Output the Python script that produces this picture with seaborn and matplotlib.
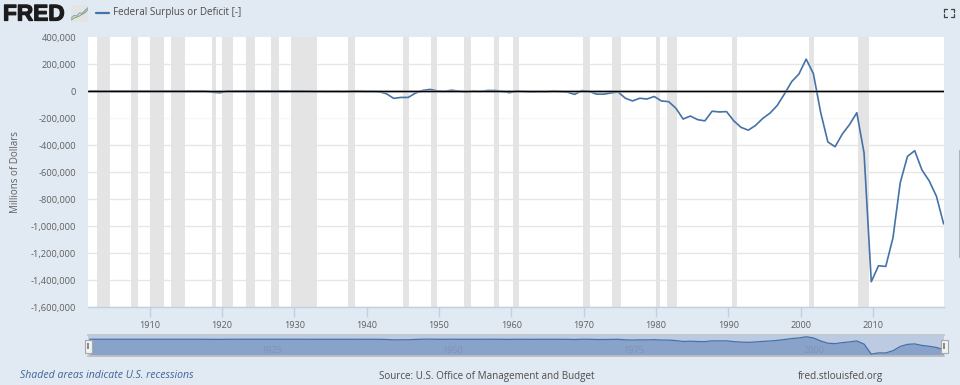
import matplotlib
matplotlib.use("Agg")
import matplotlib.pyplot as plt
import matplotlib.patheffects as pe
from matplotlib.patches import Rectangle
import numpy as np
import pandas as pd
import seaborn as sns

W, H = 960, 385
BG = "#e1e9f2"
BLUE = "#4572a7"
GREY_TXT = "#606060"

years = list(range(1901, 2020))
deficit = [
    63, 77, 43, -43, -23, 25, 87, -57, -89, -18,
    11, 3, 0, 0, -63, 48, -853, -9032, -13363, 291,
    509, 736, 713, 963, 717, 865, 1155, 939, 734, 738,
    -462, -2735, -2602, -3586, -2803, -4304, -2193, -89, -2846, -2920,
    -4941, -20503, -54554, -47557, -47553, -15936, 4018, 11796, 580, -3119,
    6102, -1519, -6493, -1154, -2993, 3947, 3412, -2769, -12849, 301,
    -3335, -7146, -4756, -5915, -1411, -3698, -8643, -25161, 3242, -2842,
    -23033, -23373, -14908, -6135, -53242, -73732, -53659, -59185, -40726, -73830,
    -78968, -127977, -207802, -185367, -212308, -221227, -149730, -155178, -152639, -221036,
    -269238, -290321, -255051, -203186, -163952, -107431, -21884, 69270, 125610, 236241,
    128236, -157758, -377585, -412727, -318346, -248181, -160701, -458553, -1412688, -1294373,
    -1299593, -1086963, -679544, -484602, -441960, -584651, -665446, -779137, -984155,
]
# fiscal year ends around october, FRED puts the point there
dates = [y + 0.75 for y in years]

recession_start = [1902.75, 1907.4, 1910.0, 1913.0, 1918.6, 1920.0, 1923.4, 1926.8, 1929.6, 1937.4,
                   1945.1, 1948.9, 1953.5, 1957.6, 1960.3, 1969.9, 1973.9, 1980.0, 1981.5, 1990.5,
                   2001.2, 2007.9]
recession_end = [1904.6, 1908.45, 1912.0, 1914.95, 1919.2, 1921.5, 1924.55, 1927.9, 1933.2, 1938.45,
                 1945.8, 1949.8, 1954.4, 1958.3, 1961.1, 1970.85, 1975.2, 1980.55, 1982.85, 1991.2,
                 2001.85, 2009.5]

y_ticks = [400000, 200000, 0, -200000, -400000, -600000, -800000, -1000000, -1200000, -1400000, -1600000]
x_ticks = [1910, 1920, 1930, 1940, 1950, 1960, 1970, 1980, 1990, 2000, 2010]
nav_labels = [1925, 1950, 1975, 2000]

icon_x = [0, 1, 2, 3, 4, 5, 6]
icon_green = [1, 2, 2.6, 3.2, 4.2, 5, 6.6]
icon_blue = [2, 3.4, 3.2, 4.8, 4.6, 6.2, 7.6]

df = pd.DataFrame({"date": dates, "deficit": deficit})

sns.set_theme(style="white")
plt.rcParams["font.family"] = ["Open Sans", "DejaVu Sans"]


def px_axes(fig, left, top, right, bottom, **kw):
    return fig.add_axes([left / W, 1 - bottom / H, (right - left) / W, (bottom - top) / H], **kw)


fig = plt.figure(figsize=(W / 100, H / 100), dpi=100, facecolor=BG)

# main chart
ax = px_axes(fig, 88, 37, 944, 307)
ax.set_facecolor("white")
for s, e in zip(recession_start, recession_end):
    ax.axvspan(s, e, color="#e4e4e4", lw=0, zorder=1)
ax.set_yticks(y_ticks)
ax.set_yticklabels([f"{v:,}" for v in y_ticks], fontsize=6.7, color=GREY_TXT)
ax.set_xticks(x_ticks)
ax.set_xticklabels([str(v) for v in x_ticks], fontsize=6.6, color=GREY_TXT)
ax.grid(axis="y", color="#e6e6e6", lw=1, zorder=0)
ax.yaxis.get_gridlines()[3].set_color("#f6f6f6")
ax.yaxis.get_gridlines()[0].set_visible(False)
sns.lineplot(data=df, x="date", y="deficit", ax=ax, color=BLUE, lw=1.2, zorder=3)
ax.axhline(0, color="#a8a8a8", lw=1, zorder=4, path_effects=[pe.withStroke(linewidth=2.2, foreground="#b5b5b5", alpha=0.5)])
ax.axhline(0, color="black", lw=1.0, zorder=5)
ax.set_xlim(1901.5, 2019.8)
ax.set_ylim(-1600000, 400000)
ax.set_xlabel("")
ax.set_ylabel("Millions of Dollars", fontsize=7, color=GREY_TXT, labelpad=0)
ax.yaxis.set_label_coords((21 - 88) / (944 - 88), 0.5)
for side in ["top", "left", "right"]:
    ax.spines[side].set_visible(False)
ax.spines["bottom"].set_color("#c0d0e0")
ax.spines["bottom"].set_linewidth(1)
ax.tick_params(axis="x", color="#c0d0e0", length=7, width=1, pad=3, bottom=True)
ax.tick_params(axis="y", length=0, pad=8.5)

# navigator under the chart
nav = px_axes(fig, 88, 335, 944, 356)
nav.set_facecolor("#bccbe2")
nav.fill_between(df["date"], df["deficit"], -1600000, color="#88a2ca", lw=0, zorder=1)
sns.lineplot(data=df, x="date", y="deficit", ax=nav, color=BLUE, lw=0.9, zorder=2)
nav.set_xlim(1901.5, 2019.8)
nav.set_ylim(-1590000, 405000)
nav.set_xticks([])
nav.set_yticks([])
nav.set_xlabel("")
nav.set_ylabel("")
for v in nav_labels:
    nav.text(v + 1.9, -1090000, str(v), fontsize=6.6, color="#8094b6", ha="center", va="center", zorder=3)
for side in ["left", "right"]:
    nav.spines[side].set_visible(False)
nav.spines["top"].set_color("#c4c8d0")
nav.spines["bottom"].set_color("#c0c0c0")
nav.spines["top"].set_linewidth(1.4)
nav.spines["bottom"].set_linewidth(1.2)

# handles of the navigator
for hx in [88, 944]:
    fig.add_artist(Rectangle(((hx - 3.5) / W, 1 - 352.5 / H), 7 / W, 13 / H, transform=fig.transFigure,
                             facecolor="#f2f2f2", edgecolor="#a8a8a8", lw=0.8))
    fig.add_artist(Rectangle(((hx - 1) / W, 1 - 349 / H), 2 / W, 6 / H, transform=fig.transFigure,
                             facecolor="#8c8c8c", edgecolor="none"))


def ftext(x, y, s, **kw):
    fig.text(x / W, 1 - y / H, s, va="center", **kw)


# header
ftext(3, 14, "FRED", fontsize=16.3, fontweight="bold", family="Liberation Sans", color="#1c1c1c",
      path_effects=[pe.withStroke(linewidth=0.9, foreground="#1c1c1c")])
icon = px_axes(fig, 71, 5, 88, 22)
icon.set_facecolor("#e4e4e4")
icon.plot(icon_x, icon_green, color="#79a55a", lw=0.7)
icon.plot(icon_x, icon_blue, color="#7d98bb", lw=0.7)
icon.set_xlim(0, 6)
icon.set_ylim(0, 9)
icon.set_xticks([])
icon.set_yticks([])
for sp in icon.spines.values():
    sp.set_visible(False)

fig.add_artist(plt.Line2D([96 / W, 109 / W], [1 - 12.5 / H] * 2, color=BLUE, lw=1.6))
ftext(113, 13, "Federal Surplus or Deficit [-]", fontsize=7.15, color="#4d4d4d")

# fullscreen corners, top right
for cx, cy, dx, dy in [(944, 9, 1, 1), (954, 9, -1, 1), (944, 17, 1, -1), (954, 17, -1, -1)]:
    fig.add_artist(plt.Line2D([cx / W, (cx + dx * 3) / W], [1 - cy / H] * 2, color="#444444", lw=0.9))
    fig.add_artist(plt.Line2D([cx / W] * 2, [1 - cy / H, 1 - (cy + dy * 3) / H], color="#444444", lw=0.9))

# footer
ftext(20, 376, "Shaded areas indicate U.S. recessions", fontsize=7.58, style="italic", color="#3f6399")
ftext(379, 376, "Source: U.S. Office of Management and Budget", fontsize=7.15, color="#4d4d4d")
ftext(798, 376, "fred.stlouisfed.org", fontsize=7.2, color="#4d4d4d")

# bit of the page scrollbar at the right edge
fig.add_artist(Rectangle((958.5 / W, 1 - 258 / H), 1.5 / W, 108 / H, transform=fig.transFigure,
                         facecolor="#a9b3c4", edgecolor="none"))

fig.savefig("out.png", dpi=100, facecolor=BG)
